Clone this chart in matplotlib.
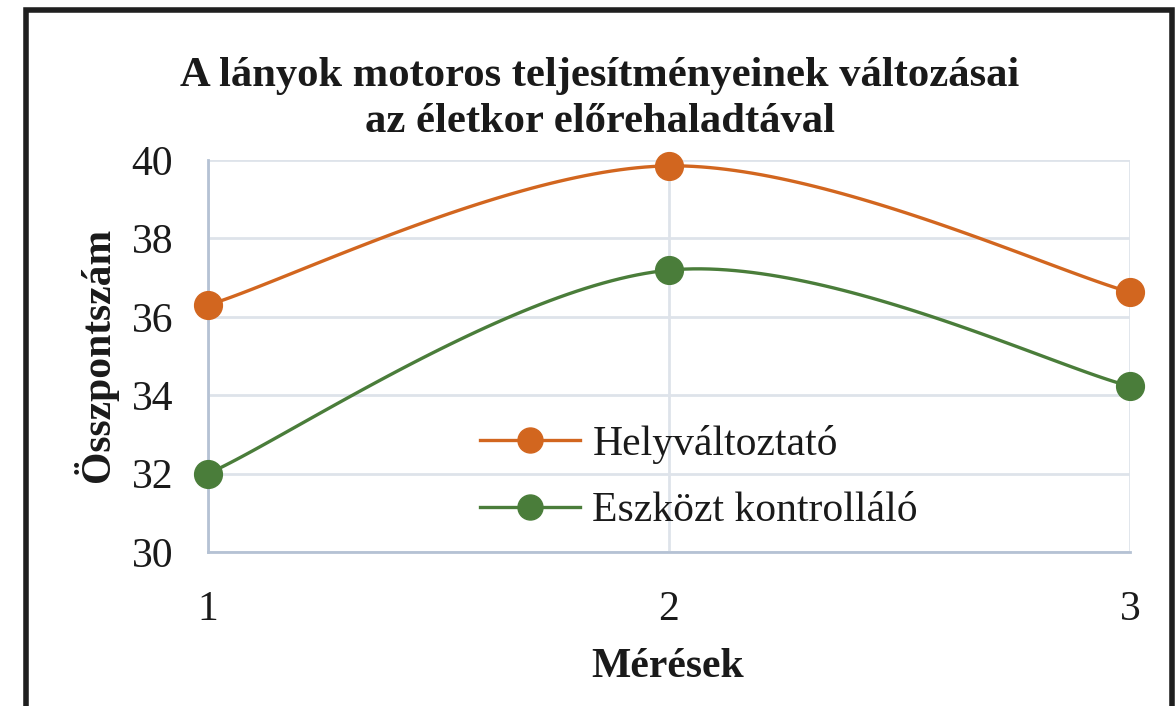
import numpy as np
import matplotlib
matplotlib.use('Agg')
import matplotlib.pyplot as plt
from matplotlib.lines import Line2D
from matplotlib.patches import Rectangle

# Adatok
meresek = [1, 2, 3]
helyvaltoztato = [36.3, 39.85, 36.63]
eszkozt_kontrollalo = [32.0, 37.19, 34.23]
series_names = ["Helyváltoztató", "Eszközt kontrolláló"]
y_ticks = [30, 32, 34, 36, 38, 40]

ORANGE = "#D2661F"
GREEN = "#4A7D3A"
GRID = "#DEE3EA"
AXIS = "#B5C2D4"
TEXT = "#1a1a1a"

plt.rcParams['font.family'] = ['Liberation Serif', 'DejaVu Serif']


def smooth(xs, ys, n=60):
    """Excel-szerű simított görbe (Catmull-Rom Bezier) a pontokon át."""
    p = np.column_stack([xs, ys]).astype(float)
    pts = []
    for i in range(len(p) - 1):
        p0 = p[max(i - 1, 0)]
        p1, p2 = p[i], p[i + 1]
        p3 = p[min(i + 2, len(p) - 1)]
        c1 = p1 + (p2 - p0) / 6
        c2 = p2 - (p3 - p1) / 6
        t = np.linspace(0, 1, n)[:, None]
        seg = ((1 - t) ** 3) * p1 + 3 * ((1 - t) ** 2) * t * c1 + 3 * (1 - t) * t ** 2 * c2 + t ** 3 * p2
        pts.append(seg if i == 0 else seg[1:])
    pts = np.vstack(pts)
    return pts[:, 0], pts[:, 1]


fig = plt.figure(figsize=(11.76, 7.06), dpi=100)
ax = fig.add_axes([208 / 1176, 1 - 552 / 706, 922 / 1176, 392 / 706])

for ys, col in [(helyvaltoztato, ORANGE), (eszkozt_kontrollalo, GREEN)]:
    sx, sy = smooth(meresek, ys)
    ax.plot(sx, sy, color=col, linewidth=2.4, clip_on=False, zorder=3)
    ax.plot(meresek, ys, linestyle="none", marker="o", markersize=20,
            color=col, markeredgecolor=col, clip_on=False, zorder=4)

ax.set_xlim(1, 3)
ax.set_ylim(30, 40)
ax.set_xticks(meresek)
ax.set_yticks(y_ticks)
ax.tick_params(length=0, labelsize=30, colors=TEXT)
ax.tick_params(axis="x", pad=28)
ax.tick_params(axis="y", pad=25)
ax.grid(True, color=GRID, linewidth=2)
ax.set_axisbelow(True)
for s in ["top", "right"]:
    ax.spines[s].set_visible(False)
for s in ["left", "bottom"]:
    ax.spines[s].set_color(AXIS)
    ax.spines[s].set_linewidth(2)

handles = [Line2D([], [], color=c, linewidth=2.4, marker="o", markersize=18)
           for c in (ORANGE, GREEN)]
ax.legend(handles, series_names, loc="center left", bbox_to_anchor=(0.295, 0.19),
          frameon=False, fontsize=30, handlelength=2.4, handletextpad=0.3,
          labelspacing=0.67, borderpad=0, borderaxespad=0, labelcolor=TEXT)

fig.text(600 / 1176, 1 - 99 / 706,
         "A lányok motoros teljesítményeinek változásai\naz életkor előrehaladtával",
         ha="center", va="center", fontsize=30.7, fontweight="bold", linespacing=1.25,
         color=TEXT)
fig.text(95 / 1176, 1 - 355 / 706, "Összpontszám", rotation=90, ha="center", va="center",
         fontsize=30, fontweight="bold", color=TEXT)
fig.text(668 / 1176, 1 - 667 / 706, "Mérések", ha="center", va="center",
         fontsize=30, fontweight="bold", color=TEXT)

# keret
fig.patches.append(Rectangle((25.5 / 1176, -0.05), (1172 - 25.5) / 1176, 1.05 - 9.5 / 706,
                             transform=fig.transFigure, fill=False,
                             edgecolor="#1f1f1f", linewidth=4))

fig.savefig("out.png", dpi=100)
